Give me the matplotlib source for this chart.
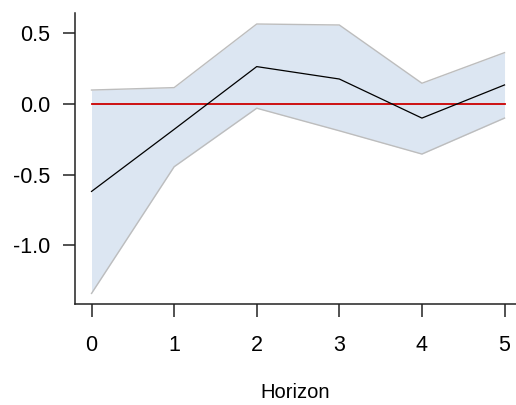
import matplotlib.pyplot as plt

# Impulse response with confidence band
horizon = [0, 1, 2, 3, 4, 5]
response = [-0.62, -0.18, 0.265, 0.177, -0.10, 0.135]
upper = [0.099, 0.116, 0.567, 0.56, 0.147, 0.364]
lower = [-1.343, -0.445, -0.03, -0.19, -0.355, -0.10]

plt.rcParams['font.family'] = ['Liberation Sans', 'DejaVu Sans']

fig = plt.figure(figsize=(5.16, 4.05), dpi=100)
ax = fig.add_axes([75 / 516, 101 / 405, 441 / 516, 291 / 405])

# shaded band with grey outline
ax.fill_between(horizon, lower, upper, color='#dce6f2', linewidth=0)
ax.plot(horizon, upper, color='#bdbdbd', lw=1)
ax.plot(horizon, lower, color='#bdbdbd', lw=1)

# zero line and point estimates
ax.plot([horizon[0], horizon[-1]], [0, 0], color='#cc0000', lw=1.3)
ax.plot(horizon, response, color='black', lw=0.9)

ax.set_xlim(-0.2, 5.139)
ax.set_ylim(-1.418, 0.645)
ax.set_xticks(horizon)
ax.set_yticks([-1.0, -0.5, 0.0, 0.5])
ax.set_yticklabels(['-1.0', '-0.5', '0.0', '0.5'])

ax.spines['top'].set_visible(False)
ax.spines['right'].set_visible(False)
for s in ['left', 'bottom']:
    ax.spines[s].set_linewidth(1.1)
    ax.spines[s].set_color('#222222')

ax.tick_params(axis='x', length=9, width=1.1, pad=13, labelsize=15.5, color='#222222')
ax.tick_params(axis='y', length=9, width=1.1, pad=9, labelsize=15.5, color='#222222')

ax.set_xlabel('Horizon', fontsize=14.5, labelpad=20)

plt.savefig('out.png', dpi=100)
